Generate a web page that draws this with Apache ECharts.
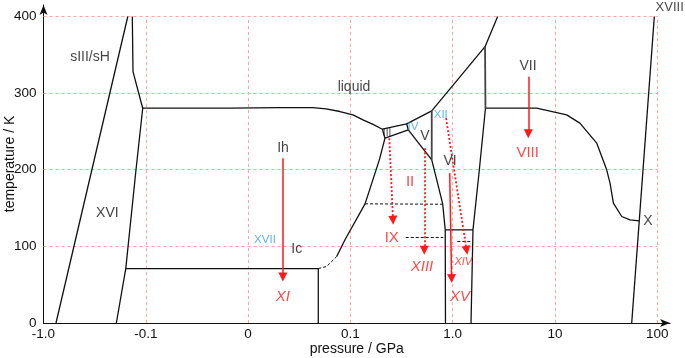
<!DOCTYPE html>
<html><head><meta charset="utf-8">
<script src="https://cdn.jsdelivr.net/npm/echarts@6/dist/echarts.min.js"></script>
<style>html,body{margin:0;padding:0;background:#fff}#c{width:685px;height:358px}</style>
</head><body><div id="c"></div>
<script>
// ---- axis ticks ----
const xTickLabels = ['-1.0', '-0.1', '0', '0.1', '1.0', '10', '100'];
const xTickPressures = [-1.0, -0.1, 0, 0.1, 1.0, 10, 100];
const yTicks = [0, 100, 200, 300, 400];

// ---- phase boundaries: [pressure / GPa, temperature / K] ----
const bndSIII = [[-0.755, 0], [-0.150, 400]];
const bndXVI = [[-0.194, 0], [-0.157, 71], [-0.1247, 200], [-0.1072, 280.3], [-0.1334, 328], [-0.1355, 400]];
const bndIhMelt = [[-0.1072, 280.3], [-0.0666, 280.5], [-0.0177, 280.3], [0.0312, 281], [0.0634, 281], [0.0761, 279.4], [0.0898, 276], [0.1059, 271.6], [0.1327, 265], [0.1664, 259.2], [0.2051, 252.9]];
const bndIII = [[0.2051, 252.9], [0.3548, 259.8], [0.368, 252], [0.2178, 241.2], [0.2051, 252.9]];
const bndLiqV = [[0.3548, 259.8], [0.6237, 276.8], [2.07, 360.6], [2.75, 400]];
const bndVIVII = [[2.07, 360.6], [2.09, 280.3]];
const bndVIVIII = [[2.09, 280.3], [1.82, 199.6], [1.578, 121.6], [1.51, 0]];
const bndVIIVIII = [[2.09, 280.3], [6.62, 280.3], [13.0, 271.6], [17.5, 260.8], [25.6, 234.7], [32.0, 199.9], [34.5, 182.5], [37.2, 156.5], [44.9, 139], [54.1, 134.7], [66.7, 133.4]];
const bndX = [[56.2, 0], [93.5, 400]];
const bndIhXI = [[-0.157, 71], [0.0686, 71], [0.0686, 0]];
const bndIcIIDashed = [[0.0686, 71], [0.0768, 73.8], [0.0866, 86.8]];
const bndIcII = [[0.0866, 86.8], [0.0947, 108.6], [0.139, 155.5], [0.1918, 212.9], [0.2178, 241.2]];
const bndIIV = [[0.368, 252], [0.6237, 212.9]];
const bndVVI = [[0.6237, 276.8], [0.6237, 212.9]];
const bndIIVI = [[0.6237, 212.9], [0.698, 186.8], [0.798, 155.5], [0.845, 121.6], [0.85, 0]];
const bndXVtop = [[0.845, 121.6], [1.578, 121.6]];
const dashed155 = [[0.139, 155.5], [0.791, 155]];
const dashed112 = [[0.3475, 111.6], [0.809, 111.6]];
const dashed106 = [[1.109, 106.4], [1.535, 106.4]];

// ---- ordering transitions (arrows) ----
const arrowsSolid = [
  [[0.034, 215], [0.034, 60]],
  [[5.48, 321.5], [5.48, 247]],
  [[0.935, 195.6], [0.975, 58]]
];
const arrowsDotted = [
  [[0.240, 241.2], [0.261, 134]],
  [[0.527, 228.2], [0.527, 95]],
  [[0.861, 267.3], [1.368, 94.9]]
];

// ---- phase labels: [text, pressure, temperature] ----
const labelsBlack = [['sIII/sH', -0.351, 347.6], ['XVI', -0.2377, 143.4], ['liquid', 0.1084, 307.7], ['Ih', 0.0341, 228.6], ['Ic', 0.0475, 96.9], ['V', 0.536, 243.3], ['VI', 0.941, 210.7], ['VII', 5.45, 335.5], ['X', 81.1, 133.4]];
const labelsTop = [['XVIII', 132, 411.5]];
const labelsTiny = [['III', 0.228, 247.5]];
const labelsBlue = [['XVII', 0.0165, 108.6], ['IV', 0.409, 255.9], ['XII', 0.764, 271.6]];
const labelsRed = [['II', 0.383, 184.6], ['IX', 0.2535, 111.6], ['VIII', 5.4, 222]];
const labelsRedItalic = [['XI', 0.034, 34.3], ['XIII', 0.501, 73.4], ['XV', 1.178, 34.7]];
const labelsRedSmall = [['XIV', 1.27, 80.3]];

// symmetric-log pressure scale used by the chart
function sx(p) {
  if (p >= 0.1) return 3 + Math.log10(p / 0.1);
  if (p <= -0.1) return 1 - Math.log10(-p / 0.1);
  return 2 + p / 0.1;
}
const tr = arr => arr.map(d => [sx(d[0]), d[1]]);

const FONT = "Arial, 'Liberation Sans', sans-serif";
const RED = '#ff1a1a';
const BLUE = '#3d9cf5';

const series = [];

// grid lines
const gridCoords = [];
xTickPressures.slice(1).forEach(p => gridCoords.push({ coords: [[sx(p), 0], [sx(p), 400]] }));
yTicks.slice(1).forEach(t => gridCoords.push({ coords: [[sx(-1.0), t], [sx(100), t]] }));
series.push({
  type: 'lines', coordinateSystem: 'cartesian2d', silent: true, z: 1,
  lineStyle: { color: '#ffa3a3', width: 1, type: [3, 3], opacity: 1 },
  data: gridCoords
});

function boundary(arr, opts) {
  series.push(Object.assign({
    type: 'line', data: tr(arr), showSymbol: false, symbol: 'none', silent: true, z: 3,
    lineStyle: { color: '#111', width: 1.3 }
  }, opts || {}));
}
[bndSIII, bndXVI, bndIhMelt, bndIII, bndLiqV, bndVIVIII, bndVIIVIII, bndX, bndIhXI, bndIcII, bndIIV, bndIIVI, bndXVtop].forEach(b => boundary(b));
boundary(bndVVI, { lineStyle: { color: '#444', width: 1.8 } });
boundary(bndVIVII, { lineStyle: { color: '#444', width: 1.8 } });
[bndIcIIDashed, dashed155, dashed112, dashed106].forEach(b => boundary(b, { lineStyle: { color: '#111', width: 1, type: [3, 2] } }));

series.push({
  type: 'lines', coordinateSystem: 'cartesian2d', silent: true, z: 4,
  symbol: ['none', 'triangle'], symbolSize: [6, 9],
  lineStyle: { color: RED, width: 1.5, opacity: 1 },
  itemStyle: { color: RED },
  data: arrowsSolid.map(a => ({ coords: tr(a) }))
});
series.push({
  type: 'lines', coordinateSystem: 'cartesian2d', silent: true, z: 4,
  symbol: ['none', 'triangle'], symbolSize: [6, 9],
  lineStyle: { color: RED, width: 1.8, type: [2, 2], opacity: 1 },
  itemStyle: { color: RED },
  data: arrowsDotted.map(a => ({ coords: tr(a) }))
});

function labels(arr, style) {
  series.push({
    type: 'scatter', symbolSize: 1, silent: true, z: 5, clip: false,
    itemStyle: { color: 'rgba(0,0,0,0)' },
    data: arr.map(d => ({ value: [sx(d[1]), d[2]], name: d[0] })),
    label: Object.assign({ show: true, position: 'inside', formatter: p => p.name, fontFamily: FONT, fontSize: 14, color: '#111' }, style)
  });
}
labels(labelsBlack, {});
labels(labelsTop, { fontSize: 13 });
labels(labelsTiny, { fontSize: 10 });
labels(labelsBlue, { color: BLUE, fontSize: 11.5 });
labels(labelsRed, { color: RED, fontSize: 15 });
labels(labelsRedItalic, { color: RED, fontSize: 15, fontStyle: 'italic' });
labels(labelsRedSmall, { color: RED, fontSize: 11, fontStyle: 'italic' });

const chart = echarts.init(document.getElementById('c'), null, { renderer: 'canvas' });
chart.setOption({
  animation: false,
  backgroundColor: '#fff',
  grid: { left: 43.5, right: 15, top: 5, bottom: 35, containLabel: false, outerBoundsMode: 'none' },
  xAxis: {
    type: 'value', min: 0, max: 6.124, interval: 1,
    name: 'pressure / GPa', nameLocation: 'middle', nameGap: 19, nameMoveOverlap: false,
    nameTextStyle: { fontFamily: FONT, fontSize: 14, color: '#111' },
    axisLine: { show: true, symbol: ['none', 'arrow'], symbolSize: [6, 10], lineStyle: { color: '#111', width: 1 } },
    axisTick: { show: false },
    splitLine: { show: false },
    axisLabel: {
      margin: 4, fontFamily: FONT, fontSize: 13.5, color: '#111',
      formatter: v => { const r = Math.round(v); return (Math.abs(v - r) < 1e-6 && r >= 0 && r < xTickLabels.length) ? xTickLabels[r] : ''; }
    }
  },
  yAxis: {
    type: 'value', min: 0, max: 415, interval: 100,
    name: 'temperature / K', nameLocation: 'middle', nameGap: 26, nameMoveOverlap: false,
    nameTextStyle: { fontFamily: FONT, fontSize: 14, color: '#111' },
    axisLine: { show: true, symbol: ['none', 'arrow'], symbolSize: [6, 10], lineStyle: { color: '#111', width: 1 } },
    axisTick: { show: false },
    splitLine: { show: false },
    axisLabel: {
      margin: 7, fontFamily: FONT, fontSize: 13.5, color: '#111',
      formatter: v => (yTicks.indexOf(v) >= 0 ? String(v) : '')
    }
  },
  series: series
});
</script>
</body></html>
